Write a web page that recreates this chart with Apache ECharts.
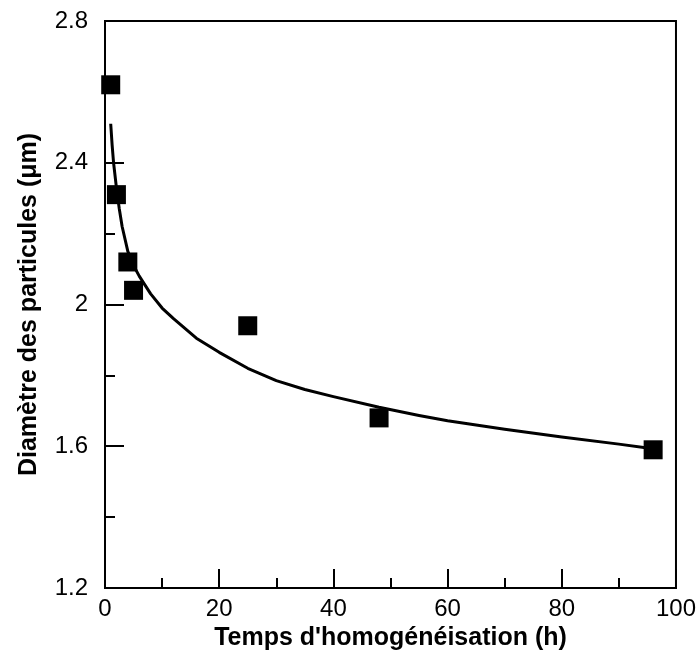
<!DOCTYPE html>
<html>
<head>
<meta charset="utf-8">
<script src="https://cdn.jsdelivr.net/npm/echarts@6/dist/echarts.min.js"></script>
<style>
  html, body { margin: 0; padding: 0; background: #fff; }
  #chart { width: 699px; height: 660px; }
</style>
</head>
<body>
<div id="chart"></div>
<script>
// mesures (carrés)
const timeHours = [1, 2, 4, 5, 25, 48, 96];
const diameters = [2.62, 2.31, 2.12, 2.04, 1.94, 1.68, 1.59];

// courbe d'ajustement
const fitX = [1, 1.25, 1.5, 2, 2.5, 3, 4, 5, 6, 8, 10, 12, 16, 20, 25, 30, 35, 40, 48, 55, 60, 70, 80, 90, 95];
const fitY = [2.51, 2.45, 2.40, 2.33, 2.27, 2.22, 2.15, 2.11, 2.08, 2.03, 1.99, 1.96, 1.905, 1.865, 1.82, 1.785, 1.76, 1.74, 1.71, 1.687, 1.672, 1.648, 1.626, 1.606, 1.595];

const xTitle = "Temps d'homogénéisation (h)";
const yTitle = 'Diamètre des particules (μm)';

const chart = echarts.init(document.getElementById('chart'));
const font = 'Liberation Sans, Arial, sans-serif';

const axisCommon = {
  axisLine: { show: true, onZero: false, lineStyle: { color: '#000', width: 2 } },
  axisTick: { show: true, inside: true, length: 19, lineStyle: { color: '#000', width: 2 } },
  minorTick: { show: true, splitNumber: 2, length: 10, lineStyle: { color: '#000', width: 2 } },
  splitLine: { show: false },
  nameLocation: 'middle',
  nameTextStyle: { color: '#000', fontSize: 25, fontWeight: 'bold', fontFamily: font }
};

chart.setOption({
  animation: false,
  backgroundColor: '#fff',
  grid: {
    left: 105, right: 21, top: 21, bottom: 72,
    show: true, borderColor: '#000', borderWidth: 2
  },
  xAxis: Object.assign({}, axisCommon, {
    type: 'value',
    min: 0, max: 100, interval: 20,
    name: xTitle,
    nameGap: 36,
    axisLabel: { color: '#000', fontSize: 24, fontFamily: font, margin: 9 }
  }),
  yAxis: Object.assign({}, axisCommon, {
    type: 'value',
    min: 1.2, max: 2.8, interval: 0.4,
    name: yTitle,
    nameGap: 63,
    axisLabel: {
      color: '#000', fontSize: 24, fontFamily: font, margin: 17,
      formatter: v => (Math.abs(v - 2) < 1e-9 ? '2' : v.toFixed(1))
    }
  }),
  series: [
    {
      type: 'line',
      data: fitX.map((x, i) => [x, fitY[i]]),
      smooth: false,
      showSymbol: false,
      lineStyle: { color: '#000', width: 3, join: 'round' },
      z: 2
    },
    {
      type: 'scatter',
      data: timeHours.map((x, i) => [x, diameters[i]]),
      symbol: 'rect',
      symbolSize: 19,
      itemStyle: { color: '#000', opacity: 1 },
      z: 3
    }
  ]
});
</script>
</body>
</html>
